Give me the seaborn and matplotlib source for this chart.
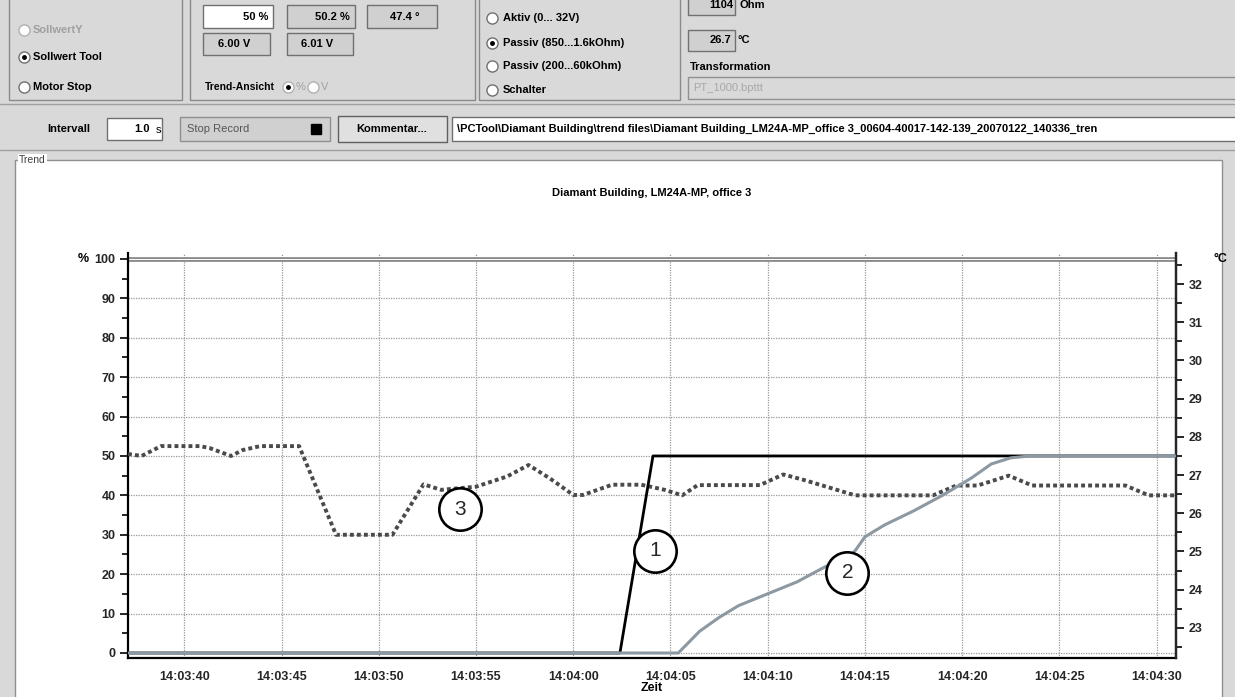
import matplotlib
matplotlib.use('Agg')
import matplotlib.pyplot as plt
from matplotlib.patches import Rectangle
from matplotlib.lines import Line2D
from matplotlib.ticker import MultipleLocator, FixedLocator
import seaborn as sns

# time axis: seconds after 14:03:40
time_ticks = [0, 5, 10, 15, 20, 25, 30, 35, 40, 45, 50]
time_labels = ['14:03:40', '14:03:45', '14:03:50', '14:03:55', '14:04:00', '14:04:05',
               '14:04:10', '14:04:15', '14:04:20', '14:04:25', '14:04:30']

# (1) setpoint, %
setpoint_t = [-2.9, 22.4, 24.1, 51.0]
setpoint_pct = [0, 0, 50, 50]

# (3) damper position, %
position_t = [-2.9, -2.2, -1.6, -1.2, 0.8, 1.3, 2.4, 3.0, 3.9, 5.9,
              7.8, 10.7, 12.3, 13.2, 15.0, 16.6, 17.7, 18.8, 20.0, 20.5,
              22.0, 23.5, 24.7, 25.6, 26.4, 29.6, 30.8, 31.8, 34.5, 38.5,
              39.7, 40.8, 42.4, 43.6, 48.4, 49.6, 51.0]
position_pct = [50.5, 50, 51.5, 52.5, 52.5, 52, 50, 51.5, 52.5, 52.5,
                30, 30, 42.8, 41.4, 42.2, 44.8, 47.7, 44.3, 40.1, 40.1,
                42.7, 42.7, 41.4, 40, 42.6, 42.6, 45.3, 44.0, 40, 40,
                42.5, 42.5, 45, 42.5, 42.5, 40, 40]

# (2) temperature, °C
temp_t = [-2.9, 25.4, 26.5, 27.5, 28.5, 30.0, 31.5, 33.0, 34.0, 34.5,
          35.0, 36.0, 37.5, 39.0, 40.5, 41.5, 42.5, 43.5, 51.0]
temp_c = [22.34, 22.34, 22.91, 23.27, 23.58, 23.89, 24.20, 24.61, 24.77, 25.02,
          25.38, 25.69, 26.06, 26.47, 26.93, 27.29, 27.45, 27.50, 27.50]

marker_x = [24.2, 34.1, 14.2]
marker_y = [26.0, 20.4, 36.5]
marker_txt = ['1', '2', '3']

sns.set_style('white')
plt.rcParams['font.family'] = ['Liberation Sans', 'DejaVu Sans']

W, H = 1235, 697
fig = plt.figure(figsize=(12.35, 6.97), dpi=100)
fig.patch.set_facecolor('#d9d9d9')


def fx(x):
    return x / W


def fy(y):
    return 1 - y / H


def rect(x0, y0, x1, y1, fc='none', ec='#8a8a8a', lw=1.0, z=-2):
    fig.add_artist(Rectangle((fx(x0), fy(y1)), (x1 - x0) / W, (y1 - y0) / H,
                             transform=fig.transFigure, fc=fc, ec=ec, lw=lw, zorder=z))


def txt(x, y, s, color='black', ha='left', size=8, weight='bold'):
    fig.text(fx(x), fy(y), s, ha=ha, va='center', color=color, fontsize=size,
             fontweight=weight)


def radio(x, y, checked=False, enabled=True):
    ec = '#707070' if enabled else '#b0b0b0'
    fig.add_artist(Line2D([fx(x)], [fy(y)], marker='o', ms=8, mfc='white', mec=ec,
                          mew=1, transform=fig.transFigure))
    if checked:
        fig.add_artist(Line2D([fx(x)], [fy(y)], marker='o', ms=2.5, mfc='black',
                              mec='black', transform=fig.transFigure))


# --- UI panel above the chart ---
rect(9, -5, 182, 100)
radio(24, 30, enabled=False)
txt(33, 30, 'SollwertY', color='#a0a0a0')
radio(24, 57, checked=True)
txt(33, 57, 'Sollwert Tool')
radio(24, 87)
txt(33, 87, 'Motor Stop')

rect(190, -5, 475, 100)
rect(203, 5, 273, 28, fc='white', ec='#707070')
txt(268, 17, '50 %', ha='right')
rect(287, 5, 355, 28, fc='#d0d0d0', ec='#707070')
txt(350, 17, '50.2 %', ha='right')
rect(367, 5, 437, 28, fc='#d0d0d0', ec='#707070')
txt(420, 17, '47.4 °', ha='right')
rect(203, 33, 270, 55, fc='#d0d0d0', ec='#707070')
txt(250, 44, '6.00 V', ha='right')
rect(287, 33, 353, 55, fc='#d0d0d0', ec='#707070')
txt(333, 44, '6.01 V', ha='right')
txt(205, 87, 'Trend-Ansicht', size=7.5)
radio(288, 87, checked=True, enabled=False)
txt(296, 87, '%', color='#a0a0a0', weight='normal')
radio(313, 87, enabled=False)
txt(321, 87, 'V', color='#a0a0a0', weight='normal')

rect(479, -5, 680, 100)
for yy, s, chk in [(18, 'Aktiv (0... 32V)', False), (43, 'Passiv (850...1.6kOhm)', True),
                   (66, 'Passiv (200...60kOhm)', False), (90, 'Schalter', False)]:
    radio(492, yy, checked=chk)
    txt(503, yy, s)

rect(688, -3, 735, 15, fc='#d0d0d0', ec='#707070')
txt(733, 5, '1104', ha='right')
txt(739, 5, 'Ohm')
rect(688, 30, 735, 51, fc='#d0d0d0', ec='#707070')
txt(731, 40, '26.7', ha='right')
txt(738, 40, '°C')
txt(690, 67, 'Transformation')
rect(688, 77, 1240, 99, fc='#d9d9d9', ec='#909090')
txt(693, 88, 'PT_1000.bpttt', color='#a8a8a8', weight='normal')

fig.add_artist(Line2D([0, 1], [fy(104), fy(104)], color='#a0a0a0', lw=1, transform=fig.transFigure))
txt(47, 129, 'Intervall')
rect(107, 118, 162, 140, fc='white', ec='#707070')
txt(150, 129, '1.0', ha='right')
txt(156, 130, 's', weight='normal')
rect(180, 117, 330, 141, fc='#d0d0d0', ec='#909090')
txt(187, 129, 'Stop Record', color='#555555', weight='normal')
fig.add_artist(Line2D([fx(316)], [fy(129)], marker='s', ms=7, color='black',
                      transform=fig.transFigure))
rect(338, 116, 447, 142, fc='#e0e0e0', ec='#606060')
txt(392, 129, 'Kommentar...', ha='center')
rect(452, 117, 1240, 141, fc='white', ec='#707070')
txt(457, 129, '\\PCTool\\Diamant Building\\trend files\\Diamant Building_LM24A-MP_office 3'
    '_00604-40017-142-139_20070122_140336_tren')
fig.add_artist(Line2D([0, 1], [fy(150), fy(150)], color='#a0a0a0', lw=1, transform=fig.transFigure))

# Trend group box
rect(15, 160, 1222, 700, fc='white', ec='#909090', lw=1.0, z=-3)
fig.text(fx(19), fy(160), 'Trend', ha='left', va='center', fontsize=7.5, color='#404040',
         bbox=dict(fc='white', ec='none', pad=1))

# --- chart ---
ax = fig.add_axes([fx(128), fy(658), (1176 - 128) / W, (658 - 253) / H])
ax.set_facecolor('white')
ax.axhline(100, color='#8a8a8a', lw=3.4, zorder=2)
ax.axhline(100, color='white', lw=0.7, zorder=2)

sns.lineplot(x=setpoint_t, y=setpoint_pct, ax=ax, color='black', lw=2.0, zorder=4)
sns.lineplot(x=position_t, y=position_pct, ax=ax, color='#4a4a4a', lw=2.8,
             linestyle=(0, (1, 0.8)), zorder=3)

ax.set_xlim(-2.9, 51.0)
ax.set_ylim(-1.27, 101.5)
ax.xaxis.set_major_locator(FixedLocator(time_ticks))
ax.set_xticklabels(time_labels)
ax.xaxis.set_minor_locator(MultipleLocator(2.5))
ax.yaxis.set_major_locator(FixedLocator(range(0, 101, 10)))
ax.yaxis.set_minor_locator(MultipleLocator(5))
ax.grid(which='major', color='#9a9a9a', linestyle=(0, (1, 1)), lw=0.9)
ax.set_axisbelow(True)
ax.tick_params(which='major', length=6, width=1.4, direction='out', labelsize=9, pad=3)
ax.tick_params(which='minor', length=4, width=1.4, direction='out')
for lab in ax.get_xticklabels() + ax.get_yticklabels():
    lab.set_fontweight('bold')
ax.set_xlabel('')
ax.set_ylabel('')
ax.spines['top'].set_visible(False)
for s in ['left', 'bottom', 'right']:
    ax.spines[s].set_linewidth(1.6)
    ax.spines[s].set_color('black')

ax2 = ax.twinx()
sns.lineplot(x=temp_t, y=temp_c, ax=ax2, color='#8d99a2', lw=2.2, zorder=5)
ax2.set_ylim(22.34 + 0.1032 * -1.27, 22.34 + 0.1032 * 101.5)
ax2.yaxis.set_major_locator(FixedLocator(range(23, 33)))
ax2.yaxis.set_minor_locator(MultipleLocator(0.5))
ax2.tick_params(which='major', length=6, width=1.4, direction='out', labelsize=9, pad=3)
ax2.tick_params(which='minor', length=4, width=1.4, direction='out')
for lab in ax2.get_yticklabels():
    lab.set_fontweight('bold')
ax2.set_ylabel('')
ax2.spines['top'].set_visible(False)
ax2.spines['left'].set_visible(False)
ax2.spines['bottom'].set_visible(False)
ax2.spines['right'].set_linewidth(1.6)
ax2.grid(False)

ax.set_zorder(1)
ax2.set_zorder(2)
ax2.patch.set_visible(False)

# circled labels
for mx, my, mt in zip(marker_x, marker_y, marker_txt):
    ax2.scatter([mx], [22.34 + 0.1032 * my], s=930, facecolor='white', edgecolor='black',
                lw=1.9, zorder=10)
    ax2.text(mx, 22.34 + 0.1032 * my, mt, ha='center', va='center', fontsize=15,
             zorder=11)

txt(652, 193, 'Diamant Building, LM24A-MP, office 3', ha='center', size=8)
txt(78, 259, '%', size=9)
txt(1213, 259, '°C', size=9)
txt(652, 688, 'Zeit', ha='center', size=9)

fig.savefig('out.png', dpi=100, facecolor=fig.get_facecolor())
